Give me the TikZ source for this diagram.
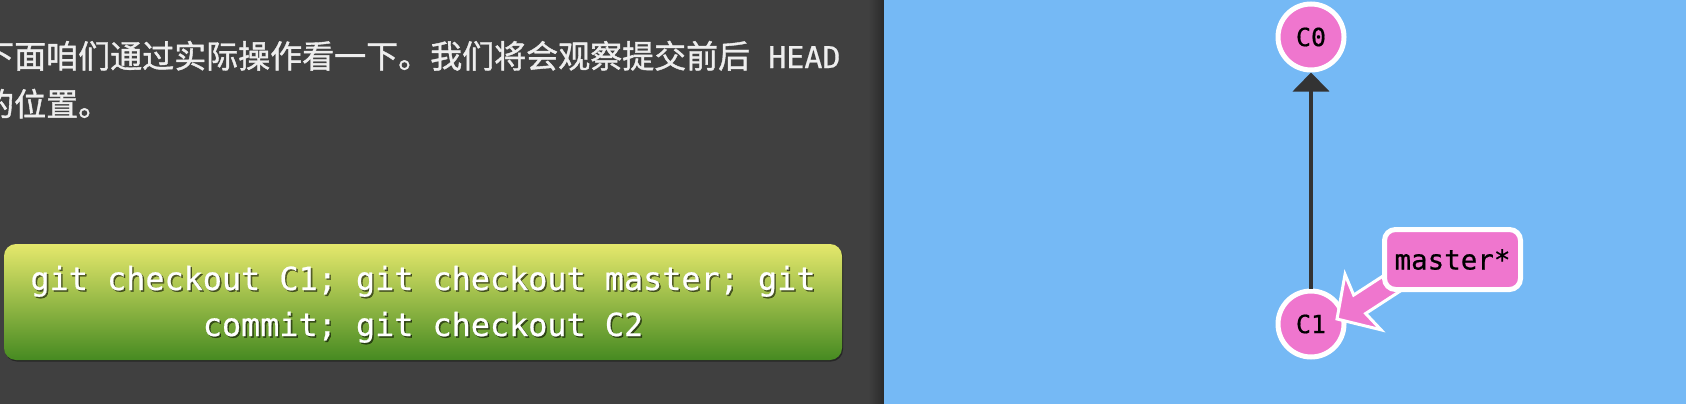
\documentclass[tikz,border=0pt]{standalone}
\usepackage{fontspec}
\newfontfamily\cjk[FakeBold=1.2]{Noto Sans CJK SC}
\newfontfamily\mono{DejaVu Sans Mono}
\newfontfamily\monob[FakeBold=0.6]{DejaVu Sans Mono}
\usetikzlibrary{arrows.meta}
\definecolor{panel}{HTML}{404040}
\definecolor{panelshadow}{HTML}{2A2A2A}
\definecolor{bg}{HTML}{75B9F5}
\definecolor{txt}{HTML}{EEEEEE}
\definecolor{btntop}{HTML}{E5E86C}
\definecolor{btnbot}{HTML}{468A21}
\definecolor{pinkc}{HTML}{EF76CE}
\definecolor{linec}{HTML}{333333}
\tikzset{
  commit/.style={circle, fill=pinkc, draw=white, line width=5pt, minimum size=66pt,
    inner sep=0pt, font=\monob\fontsize{25}{30}\selectfont, text=black},
  branch/.style={rectangle, rounded corners=11pt, fill=pinkc, draw=white, line width=5pt,
    minimum width=136pt, minimum height=60pt, inner sep=0pt,
    font=\monob\fontsize{27.5}{32}\selectfont, text=black},
  parentedge/.style={draw=linec, line width=4pt, -{Triangle[width=36pt,length=19pt]}},
  ptr/.style={fill=pinkc, draw=white, line width=3pt, line join=miter},
  para/.style={anchor=base west, inner sep=0pt, text=txt, font=\cjk\fontsize{32}{40}\selectfont},
  cmdtext/.style={anchor=base, inner sep=0pt, text=white, font=\monob\fontsize{31.8}{46}\selectfont},
  cmdshadow/.style={anchor=base, inner sep=0pt, text=black, opacity=0.55, font=\monob\fontsize{31.8}{46}\selectfont},
  button/.style={rectangle, rounded corners=12pt, top color=btntop, bottom color=btnbot,
    minimum width=838pt, minimum height=116pt, inner sep=0pt, draw=none},
  buttonshadow/.style={rectangle, rounded corners=12pt, fill=black!85,
    minimum width=838pt, minimum height=116pt, inner sep=0pt, draw=none}
}
\begin{document}
\begin{tikzpicture}[x=1pt,y=1pt]
\useasboundingbox (0,0) rectangle (1686,-404);
% panels
\fill[panel] (0,0) rectangle (884,-404);
\shade[left color=panel, right color=panelshadow] (868,0) rectangle (884,-404);
\fill[bg] (884,0) rectangle (1686,-404);
% paragraph
\node[para] (l1) at (-18,-68) {下面咱们通过实际操作看一下。我们将会观察提交前后{\monob\fontsize{30}{40}\selectfont\ HEAD}};
\node[para] (l2) at (-18,-116) {的位置。};
% command button
\node[buttonshadow] (btnsh) at (424,-303.5) {};
\node[button] (btn) at (423,-302) {};
\node[cmdshadow] (c1sh) at (424.5,-291.5) {git checkout C1; git checkout master; git};
\node[cmdshadow] (c2sh) at (424.5,-337.5) {commit; git checkout C2};
\node[cmdtext] (cmd1) at (423,-290) {git checkout C1; git checkout master; git};
\node[cmdtext] (cmd2) at (423,-336) {commit; git checkout C2};
% commit graph
\node[commit] (c0) at (1311,-37) {C0};
\node[commit] (c1) at (1311,-324) {C1};
\draw[parentedge] (c1) -- (c0);
\coordinate (ptip) at (1337,-319);
\begin{scope}[shift={(ptip)}, rotate=33]
  \filldraw[ptr] (0,0) -- (31,33) -- (27,11) -- (120,11) -- (120,-11) -- (27,-11) -- (31,-33) -- cycle;
\end{scope}
\node[branch] (master) at (1452.5,-259.5) {master*};
\end{tikzpicture}
\end{document}
